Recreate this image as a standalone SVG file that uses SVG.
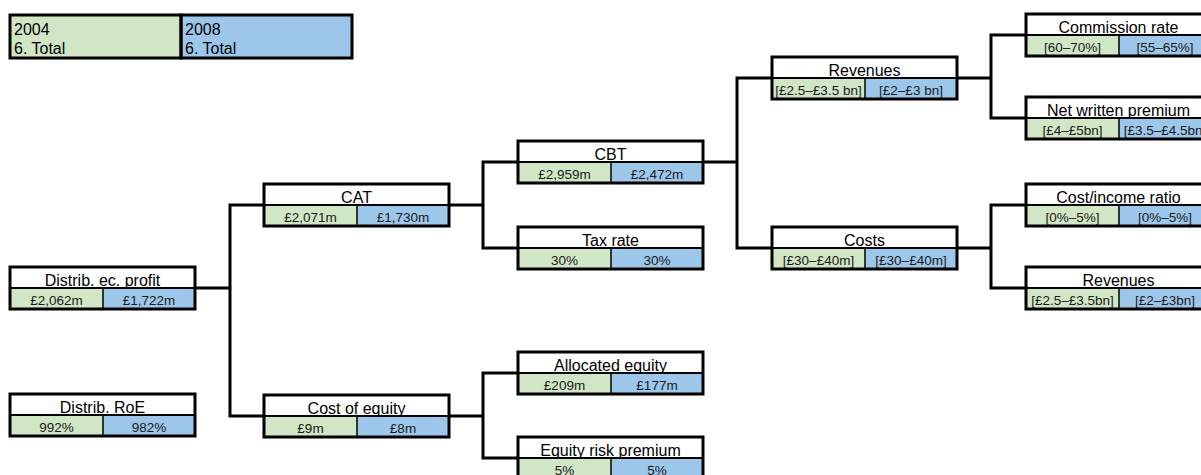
<svg xmlns="http://www.w3.org/2000/svg" width="1201" height="475" viewBox="0 0 1201 475">
<style>
.hd{fill:#fff}
.g{fill:#D0E6C5}
.b{fill:#9DC7EA}
.bd{fill:none;stroke:#000;stroke-width:3}
.sep{stroke:#000;stroke-width:2}
.sp{stroke:#000;stroke-width:1.5}
.ht{font-family:"Liberation Sans",Arial,sans-serif;font-size:16px;fill:#000;text-anchor:middle}
.vt{font-family:"Liberation Sans",Arial,sans-serif;font-size:13.5px;fill:#1a1a1a;text-anchor:middle}
.lt{font-family:"Liberation Sans",Arial,sans-serif;font-size:16px;fill:#000}
.cn{fill:none;stroke:#000;stroke-width:3;stroke-linejoin:miter;stroke-linecap:square}
</style>
<rect width="1201" height="475" fill="#fff"/>
<g id="legend">
<rect x="10" y="15" width="171" height="43" class="g"/>
<rect x="181" y="15" width="171" height="43" class="b"/>
<rect x="10" y="15" width="171" height="43" class="bd"/>
<rect x="181" y="15" width="171" height="43" class="bd"/>
<text x="14" y="35" class="lt">2004</text>
<text x="14" y="54" class="lt">6. Total</text>
<text x="185" y="35" class="lt">2008</text>
<text x="185" y="54" class="lt">6. Total</text>
</g>
<g id="connectors">
<path class="cn" d="M195,288 H230 M264,205 H230 V416 H264"/>
<path class="cn" d="M449,205 H483 M518,162 H483 V248 H518"/>
<path class="cn" d="M449,416 H483 M518,373 H483 V458 H518"/>
<path class="cn" d="M703,162 H737 M772,78 H737 V248 H772"/>
<path class="cn" d="M957,78 H991 M1026,35 H991 V118 H1026"/>
<path class="cn" d="M957,248 H991 M1026,205 H991 V288 H1026"/>
</g>
<g id="n-distrib-profit" transform="translate(10,267)">
<rect width="185" height="21" class="hd"/><rect y="21" width="93" height="21" class="g"/><rect x="93" y="21" width="92" height="21" class="b"/>
<line x1="0" y1="21" x2="185" y2="21" class="sep"/><line x1="93" y1="21" x2="93" y2="42" class="sp"/><rect width="185" height="42" class="bd"/>
<text x="92.5" y="18.5" class="ht">Distrib. ec. profit</text><text x="46.5" y="38" class="vt">£2,062m</text><text x="139" y="38" class="vt">£1,722m</text>
</g>
<g id="n-distrib-roe" transform="translate(10,394)">
<rect width="185" height="21" class="hd"/><rect y="21" width="93" height="21" class="g"/><rect x="93" y="21" width="92" height="21" class="b"/>
<line x1="0" y1="21" x2="185" y2="21" class="sep"/><line x1="93" y1="21" x2="93" y2="42" class="sp"/><rect width="185" height="42" class="bd"/>
<text x="92.5" y="18.5" class="ht">Distrib. RoE</text><text x="46.5" y="38" class="vt">992%</text><text x="139" y="38" class="vt">982%</text>
</g>
<g id="n-cat" transform="translate(264,184)">
<rect width="185" height="21" class="hd"/><rect y="21" width="93" height="21" class="g"/><rect x="93" y="21" width="92" height="21" class="b"/>
<line x1="0" y1="21" x2="185" y2="21" class="sep"/><line x1="93" y1="21" x2="93" y2="42" class="sp"/><rect width="185" height="42" class="bd"/>
<text x="92.5" y="18.5" class="ht">CAT</text><text x="46.5" y="38" class="vt">£2,071m</text><text x="139" y="38" class="vt">£1,730m</text>
</g>
<g id="n-cost-equity" transform="translate(264,395)">
<rect width="185" height="21" class="hd"/><rect y="21" width="93" height="21" class="g"/><rect x="93" y="21" width="92" height="21" class="b"/>
<line x1="0" y1="21" x2="185" y2="21" class="sep"/><line x1="93" y1="21" x2="93" y2="42" class="sp"/><rect width="185" height="42" class="bd"/>
<text x="92.5" y="18.5" class="ht">Cost of equity</text><text x="46.5" y="38" class="vt">£9m</text><text x="139" y="38" class="vt">£8m</text>
</g>
<g id="n-cbt" transform="translate(518,141)">
<rect width="185" height="21" class="hd"/><rect y="21" width="93" height="21" class="g"/><rect x="93" y="21" width="92" height="21" class="b"/>
<line x1="0" y1="21" x2="185" y2="21" class="sep"/><line x1="93" y1="21" x2="93" y2="42" class="sp"/><rect width="185" height="42" class="bd"/>
<text x="92.5" y="18.5" class="ht">CBT</text><text x="46.5" y="38" class="vt">£2,959m</text><text x="139" y="38" class="vt">£2,472m</text>
</g>
<g id="n-tax" transform="translate(518,227)">
<rect width="185" height="21" class="hd"/><rect y="21" width="93" height="21" class="g"/><rect x="93" y="21" width="92" height="21" class="b"/>
<line x1="0" y1="21" x2="185" y2="21" class="sep"/><line x1="93" y1="21" x2="93" y2="42" class="sp"/><rect width="185" height="42" class="bd"/>
<text x="92.5" y="18.5" class="ht">Tax rate</text><text x="46.5" y="38" class="vt">30%</text><text x="139" y="38" class="vt">30%</text>
</g>
<g id="n-alloc-equity" transform="translate(518,352)">
<rect width="185" height="21" class="hd"/><rect y="21" width="93" height="21" class="g"/><rect x="93" y="21" width="92" height="21" class="b"/>
<line x1="0" y1="21" x2="185" y2="21" class="sep"/><line x1="93" y1="21" x2="93" y2="42" class="sp"/><rect width="185" height="42" class="bd"/>
<text x="92.5" y="18.5" class="ht">Allocated equity</text><text x="46.5" y="38" class="vt">£209m</text><text x="139" y="38" class="vt">£177m</text>
</g>
<g id="n-erp" transform="translate(518,437)">
<rect width="185" height="21" class="hd"/><rect y="21" width="93" height="21" class="g"/><rect x="93" y="21" width="92" height="21" class="b"/>
<line x1="0" y1="21" x2="185" y2="21" class="sep"/><line x1="93" y1="21" x2="93" y2="42" class="sp"/><rect width="185" height="42" class="bd"/>
<text x="92.5" y="18.5" class="ht">Equity risk premium</text><text x="46.5" y="38" class="vt">5%</text><text x="139" y="38" class="vt">5%</text>
</g>
<g id="n-revenues" transform="translate(772,57)">
<rect width="185" height="21" class="hd"/><rect y="21" width="93" height="21" class="g"/><rect x="93" y="21" width="92" height="21" class="b"/>
<line x1="0" y1="21" x2="185" y2="21" class="sep"/><line x1="93" y1="21" x2="93" y2="42" class="sp"/><rect width="185" height="42" class="bd"/>
<text x="92.5" y="18.5" class="ht">Revenues</text><text x="46.5" y="38" class="vt">[£2.5–£3.5 bn]</text><text x="139" y="38" class="vt">[£2–£3 bn]</text>
</g>
<g id="n-costs" transform="translate(772,227)">
<rect width="185" height="21" class="hd"/><rect y="21" width="93" height="21" class="g"/><rect x="93" y="21" width="92" height="21" class="b"/>
<line x1="0" y1="21" x2="185" y2="21" class="sep"/><line x1="93" y1="21" x2="93" y2="42" class="sp"/><rect width="185" height="42" class="bd"/>
<text x="92.5" y="18.5" class="ht">Costs</text><text x="46.5" y="38" class="vt">[£30–£40m]</text><text x="139" y="38" class="vt">[£30–£40m]</text>
</g>
<g id="n-commission" transform="translate(1026,14)">
<rect width="185" height="21" class="hd"/><rect y="21" width="93" height="21" class="g"/><rect x="93" y="21" width="92" height="21" class="b"/>
<line x1="0" y1="21" x2="185" y2="21" class="sep"/><line x1="93" y1="21" x2="93" y2="42" class="sp"/><rect width="185" height="42" class="bd"/>
<text x="92.5" y="18.5" class="ht">Commission rate</text><text x="46.5" y="38" class="vt">[60–70%]</text><text x="139" y="38" class="vt">[55–65%]</text>
</g>
<g id="n-nwp" transform="translate(1026,97)">
<rect width="185" height="21" class="hd"/><rect y="21" width="93" height="21" class="g"/><rect x="93" y="21" width="92" height="21" class="b"/>
<line x1="0" y1="21" x2="185" y2="21" class="sep"/><line x1="93" y1="21" x2="93" y2="42" class="sp"/><rect width="185" height="42" class="bd"/>
<text x="92.5" y="18.5" class="ht">Net written premium</text><text x="46.5" y="38" class="vt">[£4–£5bn]</text><text x="139" y="38" class="vt">[£3.5–£4.5bn]</text>
</g>
<g id="n-cost-income" transform="translate(1026,184)">
<rect width="185" height="21" class="hd"/><rect y="21" width="93" height="21" class="g"/><rect x="93" y="21" width="92" height="21" class="b"/>
<line x1="0" y1="21" x2="185" y2="21" class="sep"/><line x1="93" y1="21" x2="93" y2="42" class="sp"/><rect width="185" height="42" class="bd"/>
<text x="92.5" y="18.5" class="ht">Cost/income ratio</text><text x="46.5" y="38" class="vt">[0%–5%]</text><text x="139" y="38" class="vt">[0%–5%]</text>
</g>
<g id="n-revenues-2" transform="translate(1026,267)">
<rect width="185" height="21" class="hd"/><rect y="21" width="93" height="21" class="g"/><rect x="93" y="21" width="92" height="21" class="b"/>
<line x1="0" y1="21" x2="185" y2="21" class="sep"/><line x1="93" y1="21" x2="93" y2="42" class="sp"/><rect width="185" height="42" class="bd"/>
<text x="92.5" y="18.5" class="ht">Revenues</text><text x="46.5" y="38" class="vt">[£2.5–£3.5bn]</text><text x="139" y="38" class="vt">[£2–£3bn]</text>
</g>
</svg>
